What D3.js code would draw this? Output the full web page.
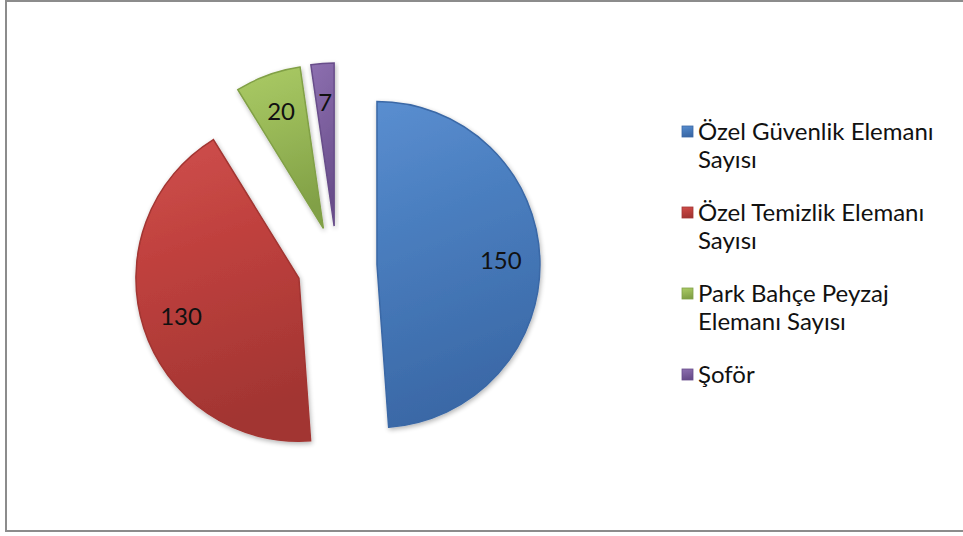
<!DOCTYPE html>
<html>
<head>
<meta charset="utf-8">
<script src="https://cdn.jsdelivr.net/npm/d3@7"></script>
<style>
  body { margin: 0; background: #fff; }
  svg { display: block; font-family: Lato, "Open Sans", sans-serif; }
</style>
</head>
<body>
<div id="chart"></div>
<script>
// data
var categories = ["Özel Güvenlik Elemanı Sayısı", "Özel Temizlik Elemanı Sayısı", "Park Bahçe Peyzaj Elemanı Sayısı", "Şoför"];
var values = [150, 130, 20, 7];
var colors = ["#4a7ebf", "#c0413e", "#9bbb59", "#7f62a1"];
var lightColors = ["#5a8ed0", "#cf504d", "#abcb66", "#8d70b0"];
var darkColors = ["#3a68a6", "#a23532", "#81a046", "#684d8a"];

var width = 963, height = 536;
var cx = 337, cy = 266, radius = 163, explode = 40;

var svg = d3.select("#chart").append("svg")
  .attr("width", width)
  .attr("height", height);

// frame
svg.append("rect")
  .attr("x", 6).attr("y", 1)
  .attr("width", width + 10).attr("height", 530)
  .attr("fill", "none")
  .attr("stroke", "#8c8c8c")
  .attr("stroke-width", 2);

var defs = svg.append("defs");
colors.forEach(function(c, i) {
  var g = defs.append("linearGradient")
    .attr("id", "grad" + i)
    .attr("x1", 0).attr("y1", 0).attr("x2", 0.2).attr("y2", 1);
  g.append("stop").attr("offset", "0%").attr("stop-color", lightColors[i]);
  g.append("stop").attr("offset", "40%").attr("stop-color", c);
  g.append("stop").attr("offset", "100%").attr("stop-color", darkColors[i]);
});

var shadow = defs.append("filter").attr("id", "shadow")
  .attr("x", "-20%").attr("y", "-20%").attr("width", "140%").attr("height", "140%");
shadow.append("feGaussianBlur").attr("in", "SourceAlpha").attr("stdDeviation", 2.5);
shadow.append("feOffset").attr("dx", 1).attr("dy", 2).attr("result", "blur");
shadow.append("feComponentTransfer").append("feFuncA").attr("type", "linear").attr("slope", 0.3);
var merge = shadow.append("feMerge");
merge.append("feMergeNode");
merge.append("feMergeNode").attr("in", "SourceGraphic");

var pie = d3.pie().sort(null).value(function(d) { return d; });
var arcs = pie(values);

var arc = d3.arc().innerRadius(0).outerRadius(radius);
var labelArc = d3.arc().innerRadius(radius * 0.76).outerRadius(radius * 0.76);

function offset(d) {
  var a = (d.startAngle + d.endAngle) / 2;
  return [cx + explode * Math.sin(a), cy - explode * Math.cos(a)];
}

var slices = svg.append("g").selectAll("g")
  .data(arcs)
  .enter().append("g")
  .attr("transform", function(d) { return "translate(" + offset(d) + ")"; });

slices.append("path")
  .attr("d", arc)
  .attr("fill", function(d, i) { return "url(#grad" + i + ")"; })
  .attr("stroke", function(d, i) { return darkColors[i]; })
  .attr("stroke-width", 1.5)
  .attr("filter", "url(#shadow)");

slices.append("text")
  .attr("transform", function(d) { return "translate(" + labelArc.centroid(d) + ")"; })
  .attr("text-anchor", "middle")
  .attr("dy", "0.35em")
  .style("font-size", "24px")
  .attr("fill", "#111")
  .text(function(d) { return d.value; });

// legend, one text per wrapped line
var legend = svg.append("g");
var lx = 682, ly = 132, lineH = 28, itemGap = 25, maxW = 262;
var linesSoFar = 0;

function wrap(str) {
  var probe = legend.append("text").style("font-size", "24px");
  var words = str.split(" "), lines = [], line = [];
  words.forEach(function(w) {
    line.push(w);
    probe.text(line.join(" "));
    if (probe.node().getComputedTextLength() > maxW && line.length > 1) {
      line.pop();
      lines.push(line.join(" "));
      line = [w];
    }
  });
  lines.push(line.join(" "));
  probe.remove();
  return lines;
}

categories.forEach(function(cat, i) {
  var y = ly + linesSoFar * lineH + i * itemGap;
  legend.append("rect")
    .attr("x", lx).attr("y", y - 6)
    .attr("width", 11).attr("height", 11)
    .attr("fill", "url(#grad" + i + ")")
    .attr("stroke", darkColors[i])
    .attr("stroke-width", 0.8);

  var lines = wrap(cat);
  lines.forEach(function(l, j) {
    legend.append("text")
      .attr("x", lx + 16).attr("y", y + j * lineH)
      .attr("dy", "0.35em")
      .style("font-size", "24px")
      .attr("fill", "#111")
      .text(l);
  });
  linesSoFar += lines.length;
});
</script>
</body>
</html>
